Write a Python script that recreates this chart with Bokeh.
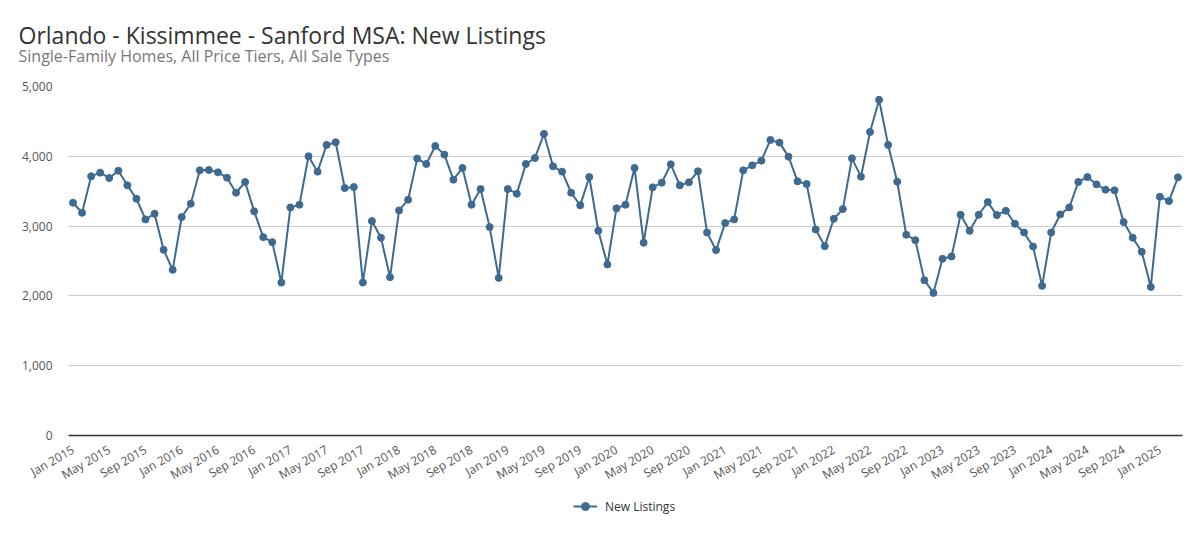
from bokeh.plotting import figure
from bokeh.models import (FixedTicker, NumeralTickFormatter, Legend, LegendItem,
                          ColumnDataSource, Range1d, Title)
from bokeh.layouts import column
from bokeh.embed import file_html
from bokeh.resources import INLINE
import math

MONTH_NAMES = ["Jan", "Feb", "Mar", "Apr", "May", "Jun",
               "Jul", "Aug", "Sep", "Oct", "Nov", "Dec"]
start_year = 2015
n_months = 123
months = [f"{MONTH_NAMES[i % 12]} {start_year + i // 12}" for i in range(n_months)]

new_listings = [
    3335, 3191, 3713, 3766, 3689, 3794, 3584, 3392, 3096, 3177, 2660, 2373,
    3129, 3321, 3799, 3804, 3770, 3694, 3478, 3632, 3211, 2842, 2770, 2191,
    3268, 3306, 4000, 3780, 4163, 4201, 3545, 3560, 2191, 3072, 2833, 2268,
    3225, 3378, 3967, 3890, 4148, 4024, 3665, 3833, 3306, 3531, 2986, 2258,
    3531, 3464, 3890, 3976, 4321, 3856, 3780, 3478, 3297, 3703, 2933, 2450,
    3254, 3306, 3833, 2761, 3555, 3622, 3885, 3584, 3627, 3785, 2909, 2656,
    3043, 3096, 3799, 3871, 3938, 4234, 4196, 3995, 3641, 3603, 2952, 2713,
    3105, 3244, 3971, 3708, 4349, 4809, 4163, 3636, 2876, 2799, 2225, 2043,
    2531, 2565, 3163, 2933, 3163, 3344, 3158, 3220, 3033, 2909, 2708, 2144,
    2909, 3167, 3268, 3632, 3703, 3598, 3522, 3512, 3057, 2833, 2632, 2129,
    3421, 3359, 3699,
]
y_ticks = [0, 1000, 2000, 3000, 4000, 5000]
title_text = "Orlando - Kissimmee - Sanford MSA: New Listings"
subtitle_text = "Single-Family Homes, All Price Tiers, All Sale Types"
series_name = "New Listings"

FONT = "Open Sans"
LINE_COLOR = "#3e6a91"
W = 1192
LEFT = 68
RIGHT = 10


def bare(fig):
    fig.axis.visible = False
    fig.grid.visible = False
    fig.outline_line_color = None


# ---- header (title + subtitle as Titles above an empty frame) ----
HEADER_H = 70
header = figure(width=W, height=HEADER_H, output_backend="svg", toolbar_location=None,
                x_range=Range1d(0, 1), y_range=Range1d(0, 1), title=None,
                min_border_left=LEFT, min_border_right=RIGHT, min_border_top=66,
                min_border_bottom=0)
bare(header)
header.add_layout(Title(text=subtitle_text, text_font=FONT, text_font_size="16px",
                        text_color="#777777", text_font_style="normal",
                        align="left", offset=-50, standoff=0), "above")
header.add_layout(Title(text=title_text, text_font=FONT, text_font_size="23px",
                        text_color="#333333", text_font_style="normal",
                        align="left", offset=-50, standoff=-16), "above")

# ---- main chart ----
src = ColumnDataSource(dict(x=list(range(n_months)), y=new_listings, month=months))

MAIN_TOP = 16
MAIN_BOTTOM = 60
p = figure(width=W, height=MAIN_TOP + 349 + MAIN_BOTTOM, output_backend="svg",
           toolbar_location=None,
           x_range=Range1d(-0.5, n_months - 0.5), y_range=Range1d(0, 5000),
           min_border_left=LEFT, min_border_right=RIGHT, min_border_top=MAIN_TOP,
           min_border_bottom=MAIN_BOTTOM, title=None)
p.outline_line_color = None

r_line = p.line("x", "y", source=src, line_color=LINE_COLOR, line_width=2)
r_pts = p.scatter("x", "y", source=src, size=7, fill_color=LINE_COLOR,
                  line_color=LINE_COLOR)

tick_pos = list(range(0, n_months, 4))
p.xaxis.ticker = FixedTicker(ticks=tick_pos)
p.xaxis.major_label_overrides = {i: months[i] for i in tick_pos}
p.xaxis.major_label_orientation = math.pi / 6
p.xaxis.major_tick_line_color = None
p.xaxis.minor_tick_line_color = None
p.xaxis.axis_line_color = "#333333"
p.xaxis.axis_line_width = 1.5
p.xaxis.major_label_text_font = FONT
p.xaxis.major_label_text_font_size = "12px"
p.xaxis.major_label_text_color = "#555555"
p.xaxis.major_label_standoff = 7
p.xgrid.grid_line_color = None

p.yaxis.ticker = FixedTicker(ticks=y_ticks)
p.yaxis.formatter = NumeralTickFormatter(format="0,0")
p.yaxis.axis_line_color = None
p.yaxis.major_tick_line_color = None
p.yaxis.minor_tick_line_color = None
p.yaxis.major_label_text_font = FONT
p.yaxis.major_label_text_font_size = "12px"
p.yaxis.major_label_text_color = "#555555"
p.yaxis.major_label_standoff = 10
p.ygrid.grid_line_color = "#cccccc"
p.ygrid.ticker = FixedTicker(ticks=y_ticks)

# ---- legend strip ----
LEG_H = 534 - HEADER_H - (MAIN_TOP + 349 + MAIN_BOTTOM)
legfig = figure(width=W, height=LEG_H, output_backend="svg", toolbar_location=None,
                x_range=Range1d(0, 1), y_range=Range1d(0, 1), title=None,
                min_border_left=LEFT, min_border_right=RIGHT, min_border_top=0,
                min_border_bottom=0)
bare(legfig)
# renderers with points outside the visible range: only their legend glyph shows
l_line = legfig.line(x=[2, 3], y=[2, 2], line_color=LINE_COLOR, line_width=2)
l_pts = legfig.scatter(x=[2], y=[2], size=7, fill_color=LINE_COLOR, line_color=LINE_COLOR)
legend = Legend(items=[LegendItem(label=series_name, renderers=[l_line, l_pts])],
                orientation="horizontal", location=(505, 18), padding=5,
                label_text_font=FONT, label_text_font_size="12px",
                label_text_color="#333333", border_line_color=None,
                background_fill_alpha=0, glyph_width=24, label_standoff=8, margin=0)
legfig.add_layout(legend, "center")

layout = column(header, p, legfig, spacing=0)
open("out.html", "w").write(file_html(layout, INLINE))
